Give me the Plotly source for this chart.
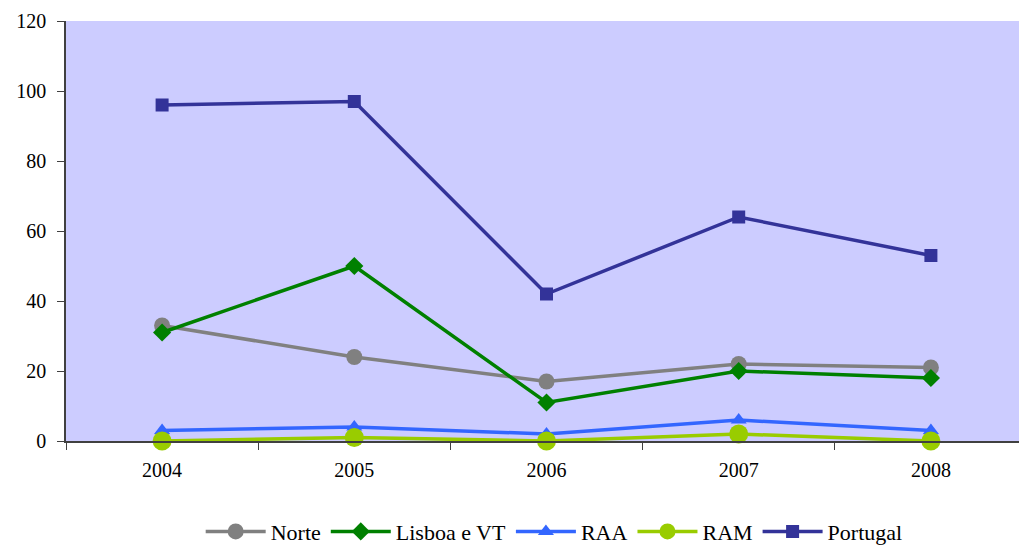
import plotly.graph_objects as go

years = ["2004", "2005", "2006", "2007", "2008"]
norte = [33, 24, 17, 22, 21]
lisboa = [31, 50, 11, 20, 18]
raa = [3, 4, 2, 6, 3]
ram = [0, 1, 0, 2, 0]
portugal = [96, 97, 42, 64, 53]

series = [
    ("Norte", norte, "#808080", "circle", 16),
    ("Lisboa e VT", lisboa, "#008000", "diamond", 14),
    ("RAA", raa, "#3366FF", "triangle-up", 14),
    ("RAM", ram, "#99CC00", "circle", 19),
    ("Portugal", portugal, "#333399", "square", 13),
]

fig = go.Figure()
for name, vals, color, sym, sz in series:
    fig.add_trace(go.Scatter(
        x=years, y=vals, name=name, mode="lines+markers",
        line=dict(color=color, width=3.5),
        marker=dict(symbol=sym, size=sz, color=color),
        cliponaxis=False,
    ))

font = dict(family="Liberation Serif, Times New Roman, serif", size=20, color="#000000")
legend_font = dict(family="Liberation Serif, Times New Roman, serif", size=22, color="#000000")
fig.update_layout(
    width=1019, height=537,
    margin=dict(l=58, r=0, t=13, b=104),
    paper_bgcolor="white", plot_bgcolor="#CCCCFF",
    font=font,
    showlegend=True,
    legend=dict(orientation="h", x=0.536, xanchor="center", xref="container",
                y=0.025, yanchor="middle", yref="container",
                font=legend_font, itemwidth=60, tracegroupgap=0),
)
fig.update_xaxes(type="category", range=[-0.5, 4.5], showgrid=False,
                 showline=True, linecolor="#404040", linewidth=1.5,
                 ticks="outside", tickson="boundaries", ticklen=7, tickcolor="#404040",
                 tickfont=font, ticklabelstandoff=10)
fig.update_yaxes(range=[0, 120], dtick=20, showgrid=False, zeroline=False,
                 showline=True, linecolor="#404040", linewidth=1.5,
                 ticks="outside", ticklen=7, tickcolor="#404040", tickfont=font,
                 ticklabelstandoff=7)

fig.write_html("out.html")
